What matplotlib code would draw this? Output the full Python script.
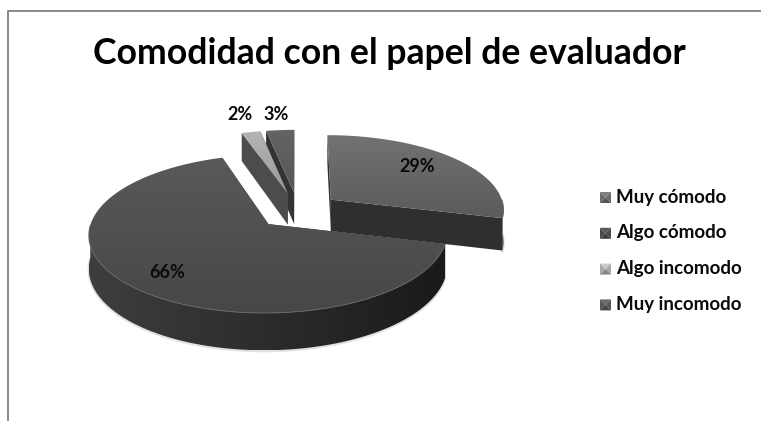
import numpy as np
import matplotlib
matplotlib.use("Agg")
import matplotlib.pyplot as plt
from matplotlib.patches import Polygon

categories = ["Muy cómodo", "Algo cómodo", "Algo incomodo", "Muy incomodo"]
values = [29, 66, 2, 3]
title = "Comodidad con el papel de evaluador"

top_colors = [("#727272", "#5b5b5b"), ("#595959", "#474747"), ("#b4b4b4", "#9a9a9a"), ("#646464", "#565656")]
cut_colors = ["#2f2f2f", "#2c2c2c", "#4c4c4c", "#333333"]
wall_colors = [("#3a3a3a", "#2a2a2a"), ("#3e3e3e", "#1a1a1a"), ("#444444", "#444444"), ("#333333", "#333333")]
key_colors = ["#6a6a6a", "#4a4a4a", "#a8a8a8", "#585858"]
label_pos = [(417, 166), (167, 272), (240, 115), (276, 115)]

# pie geometry, in figure pixels
CX, CY = 298, 210.6
RX, RY = 174, 74.7
PERSP = 0.12
DEPTH = 32
EXPLODE = 0.243

plt.rcParams["font.family"] = ["Lato", "DejaVu Sans"]

fig = plt.figure(figsize=(7.61, 4.21), dpi=100)
ax = fig.add_axes([0, 0, 1, 1])
ax.set_axis_off()


def project(u, v, drop=0.0):
    s = 1 / (1 - PERSP * v)
    return CX + RX * u * s, CY + RY * v * s + drop * DEPTH * s


def gradient(patch, c0, c1, horizontal=False):
    # fill the bounding box with a two colour ramp, clipped to the patch
    ax.add_patch(patch)
    pts = patch.get_xy()
    x0, y0 = pts.min(axis=0)
    x1, y1 = pts.max(axis=0)
    ramp = np.linspace(0, 1, 64)[:, None, None]
    a = np.array(matplotlib.colors.to_rgb(c0))
    b = np.array(matplotlib.colors.to_rgb(c1))
    img = a + (b - a) * ramp
    if horizontal:
        img = img.transpose(1, 0, 2)
    im = ax.imshow(img, extent=(x0, x1, y1, y0), aspect="auto", zorder=patch.get_zorder(), interpolation="bilinear")
    im.set_clip_path(patch)


def draw_slice(start, sweep, idx, z):
    mid = np.radians(start + sweep / 2)
    ou, ov = EXPLODE * np.sin(mid), -EXPLODE * np.cos(mid)
    theta = np.radians(np.linspace(start, start + sweep, 200))
    u = ou + np.sin(theta)
    v = ov - np.cos(theta)

    ax0 = project(ou, ov)
    ax1 = project(ou, ov, 1)
    ex, ey = project(u, v)
    bx, by = project(u, v, 1)

    # cut faces running from the centre out to both ends of the arc
    for k in (0, -1):
        quad = [ax0, (ex[k], ey[k]), (bx[k], by[k]), ax1]
        ax.add_patch(Polygon(quad, closed=True, fc=cut_colors[idx], ec="none", zorder=z))

    # outer wall, only the part turned towards the viewer
    front = v > ov + 0.0
    if idx < 2 and front.any():
        wall = np.r_[np.c_[ex[front], ey[front]], np.c_[bx[front], by[front]][::-1]]
        # soft shadow under the wall
        ax.plot(bx[front], by[front] + 0.8, color="#e2e2e2", lw=1.8, zorder=1.5)
        gradient(Polygon(wall, closed=True, fc="none", ec="none", zorder=z + 0.1),
                 wall_colors[idx][0], wall_colors[idx][1], horizontal=True)
        ax.plot(ex[front], ey[front], color="#666666", lw=0.7, zorder=z + 0.3)

    top = np.r_[[ax0], np.c_[ex, ey]]
    gradient(Polygon(top, closed=True, fc="none", ec="none", zorder=z + 0.2), top_colors[idx][0], top_colors[idx][1])


# pie starts at twelve o'clock and runs clockwise
sweeps = np.array(values) / sum(values) * 360
starts = np.r_[0, np.cumsum(sweeps)[:-1]]
for i, z in zip([1, 3, 2, 0], [2, 3, 4, 5]):
    draw_slice(starts[i], sweeps[i], i, z)

for val, (x, y) in zip(values, label_pos):
    ax.text(x, y, f"{val}%", ha="center", va="center", fontsize=13, fontweight="bold", color="#0a0a0a", zorder=10)

ax.text(389.5, 53, title, ha="center", va="center", fontsize=25.7, fontweight="bold", color="black")

# legend keys are small bevelled squares
for i, name in enumerate(categories):
    y = 197.5 + i * 35.8
    x0, x1, y0, y1 = 600, 611, y - 5.5, y + 5.5
    xc, yc = (x0 + x1) / 2, (y0 + y1) / 2
    base = np.array(matplotlib.colors.to_rgb(key_colors[i]))
    sides = [
        ([(x0, y0), (x1, y0), (xc, yc)], 1.2),
        ([(x0, y0), (x0, y1), (xc, yc)], 1.0),
        ([(x1, y0), (x1, y1), (xc, yc)], 1.0),
        ([(x0, y1), (x1, y1), (xc, yc)], 0.8),
    ]
    for pts, k in sides:
        ax.add_patch(Polygon(pts, closed=True, fc=np.clip(base * k, 0, 1), ec="none", zorder=6))
    ax.text(616, y - 0.5, name, ha="left", va="center", fontsize=13.5, fontweight="bold", color="#0a0a0a")

# chart area border, top and left only
ax.plot([8, 8, 761], [421, 11, 11], color="#888888", lw=1.4, zorder=1)

ax.set_xlim(0, 761)
ax.set_ylim(421, 0)
fig.savefig("out.png", dpi=100, facecolor="white")
